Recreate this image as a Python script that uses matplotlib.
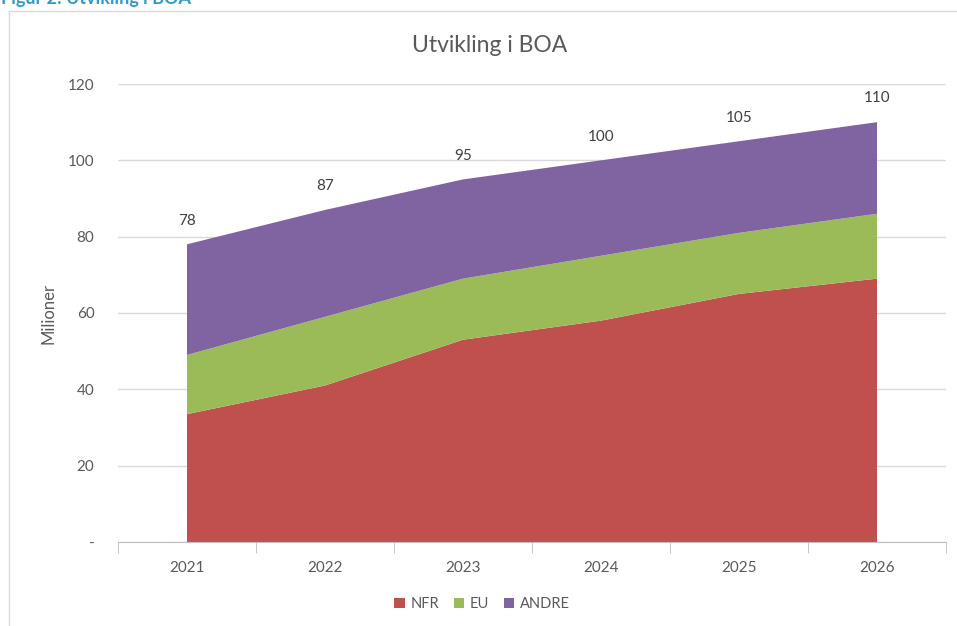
import matplotlib
matplotlib.use("Agg")
import matplotlib.pyplot as plt
from matplotlib.patches import Patch
import numpy as np

years = ["2021", "2022", "2023", "2024", "2025", "2026"]
nfr = [33.5, 41, 53, 58, 65, 69]
eu = [15.5, 18, 16, 17, 16, 17]
andre = [29, 28, 26, 25, 24, 24]
totals = [78, 87, 95, 100, 105, 110]
series_names = ["NFR", "EU", "ANDRE"]
colors = ["#C0504D", "#9BBB59", "#8064A2"]
yticks = [0, 20, 40, 60, 80, 100, 120]
ytick_labels = ["-", "20", "40", "60", "80", "100", "120"]

plt.rcParams['font.family'] = ['Lato', 'DejaVu Sans']

W, H = 957, 626
fig = plt.figure(figsize=(W / 100, H / 100), dpi=100)
fig.patch.set_facecolor("white")

# outer frame lines (left and top)
fig.add_artist(plt.Line2D([9 / W, 9 / W], [0, 1 - 11 / H], color="#D9D9D9", lw=1))
fig.add_artist(plt.Line2D([9 / W, 1], [1 - 11 / H, 1 - 11 / H], color="#D9D9D9", lw=1))

# figure caption (cut off at the top, as in the reference)
fig.text(1 / W, 1 - 4 / H, "Figur 2: Utvikling i BOA", fontsize=13, fontweight="bold",
         color="#2F9BC8", ha="left", va="baseline")

ax = fig.add_axes([118 / W, 1 - 542 / H, (946 - 118) / W, (542 - 84) / H])
x = np.arange(len(years))
ax.stackplot(x, nfr, eu, andre, colors=colors, labels=series_names, linewidth=0)

ax.set_xlim(-0.5, len(years) - 0.5)
ax.set_ylim(0, 120)
ax.set_yticks(yticks)
ax.set_yticklabels(ytick_labels)
ax.yaxis.grid(True, color="#D9D9D9", lw=1)
ax.set_axisbelow(True)
for s in ["top", "right", "left"]:
    ax.spines[s].set_visible(False)
ax.spines["bottom"].set_color("#BFBFBF")
ax.tick_params(axis="y", length=0, pad=17, labelsize=11, labelcolor="#595959")

ax.set_xticks(x)
ax.set_xticklabels(years)
ax.set_xticks(np.arange(-0.5, len(years)), minor=True)
ax.tick_params(axis="x", which="major", length=0, pad=14, labelsize=11, labelcolor="#595959")
ax.tick_params(axis="x", which="minor", length=8, color="#BFBFBF", direction="out")

for xi, t in zip(x, totals):
    ax.annotate(str(t), (xi, t), xytext=(0, 12), textcoords="offset points",
                ha="center", va="bottom", fontsize=11, color="#404040")

ax.set_ylabel("Milioner", fontsize=12, color="#595959")
ax.yaxis.set_label_coords(-0.074, 0.5)

fig.text(490 / W, 1 - 45 / H, "Utvikling i BOA", fontsize=16.5, color="#595959",
         ha="center", va="center")

handles = [Patch(facecolor=c, edgecolor="none") for c in colors]
fig.legend(handles, series_names, loc="center", bbox_to_anchor=(482 / W, 1 - 604 / H),
           ncol=3, frameon=False, fontsize=10.5, handlelength=0.7, handleheight=0.7,
           handletextpad=0.4, columnspacing=1.0, labelcolor="#595959")

fig.savefig("out.png", dpi=100, facecolor="white")
